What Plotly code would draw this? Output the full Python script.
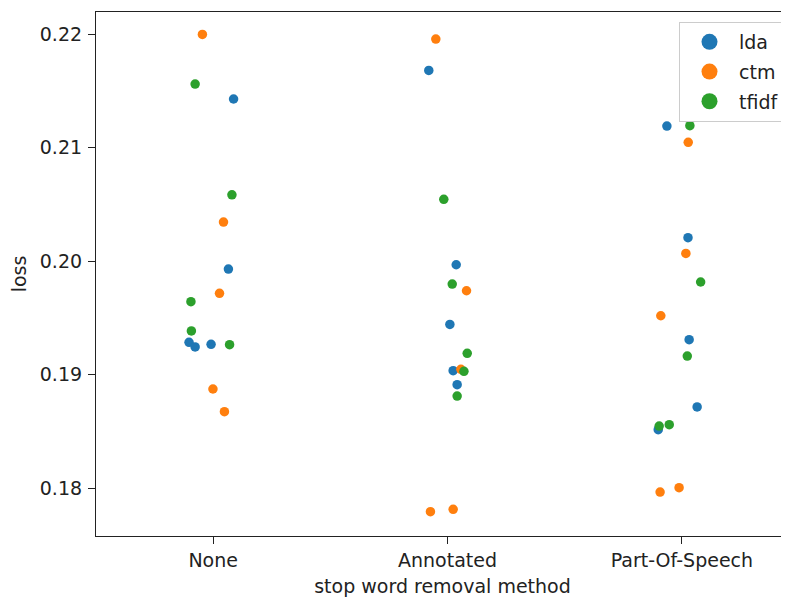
import plotly.graph_objects as go

# ---- data ----
methods = ["None", "Annotated", "Part-Of-Speech"]
series = ["lda", "ctm", "tfidf"]
colors = ["#1f77b4", "#ff7f0e", "#2ca02c"]

point_method = [0] * 5 + [1] * 5 + [2] * 5

lda_loss = [0.21428, 0.19931, 0.19286, 0.19245, 0.19268,
            0.21680, 0.19969, 0.19444, 0.19036, 0.18913,
            0.21190, 0.20207, 0.19309, 0.18717, 0.18517]
lda_jitter = [0.087, 0.065, -0.103, -0.077, -0.009,
              -0.080, 0.037, 0.010, 0.024, 0.041,
              -0.064, 0.026, 0.031, 0.065, -0.101]

ctm_loss = [0.21997, 0.20345, 0.19717, 0.18875, 0.18675,
            0.21956, 0.19740, 0.19048, 0.17795, 0.17816,
            0.21047, 0.20069, 0.19520, 0.18006, 0.17968]
ctm_jitter = [-0.046, 0.044, 0.027, -0.001, 0.048,
              -0.050, 0.081, 0.057, -0.073, 0.024,
              0.027, 0.017, -0.090, -0.012, -0.093]

tfidf_loss = [0.21560, 0.20585, 0.19644, 0.19386, 0.19265,
              0.20545, 0.19799, 0.19189, 0.19031, 0.18813,
              0.21193, 0.19817, 0.19165, 0.18561, 0.18549]
tfidf_jitter = [-0.077, 0.080, -0.095, -0.093, 0.070,
                -0.016, 0.020, 0.084, 0.070, 0.041,
                0.034, 0.080, 0.023, -0.054, -0.097]

y_ticks = [0.18, 0.19, 0.20, 0.21, 0.22]

FONT = "DejaVu Sans"
FS = 19

fig = go.Figure()
all_loss = [lda_loss, ctm_loss, tfidf_loss]
all_jit = [lda_jitter, ctm_jitter, tfidf_jitter]
for name, col, loss, jit in zip(series, colors, all_loss, all_jit):
    xs = [m + j for m, j in zip(point_method, jit)]
    fig.add_trace(go.Scatter(
        x=xs, y=loss, mode="markers", name=name, legendgroup=name,
        showlegend=False,
        marker=dict(color=col, size=9.5, line=dict(width=0)),
    ))
# legend entries (larger symbols, like seaborn's legend handles)
for name, col in zip(series, colors):
    fig.add_trace(go.Scatter(
        x=[None], y=[None], mode="markers", name=name, legendgroup=name,
        marker=dict(color=col, size=16, line=dict(width=0)),
    ))

title_font = dict(family=FONT, size=FS, color="#222")

# the page body adds an 8px offset, so the figure is sized to fit the window
fig.update_layout(
    width=781, height=589,
    margin=dict(l=88, r=0, t=4, b=61),
    paper_bgcolor="white", plot_bgcolor="white",
    font=dict(family=FONT, size=FS, color="#222"),
    legend=dict(
        x=(679 - 96) / 693, xanchor="left",
        y=1 - (22 - 12) / 524, yanchor="top",
        bgcolor="rgba(255,255,255,0.8)", bordercolor="#cccccc", borderwidth=1,
        font=dict(family=FONT, size=FS, color="#222"),
        itemwidth=49, tracegroupgap=2,
    ),
    xaxis=dict(
        range=[-0.5, 2.457], tickmode="array", tickvals=[0, 1, 2], ticktext=methods,
        showgrid=False, zeroline=False, automargin=False,
        showline=True, linecolor="#222", linewidth=1.2, mirror=True,
        ticks="outside", ticklen=7, tickwidth=1.1, tickcolor="#222",
        title=dict(text="stop word removal method", font=title_font),
    ),
    yaxis=dict(
        range=[0.17581, 0.22194], tickmode="array", tickvals=y_ticks,
        tickformat=".2f", automargin=False,
        showgrid=False, zeroline=False,
        showline=True, linecolor="#222", linewidth=1.2,
        ticks="outside", ticklen=7, tickwidth=1.1, tickcolor="#222",
        ticklabelstandoff=2,
        title=dict(text="loss", font=title_font),
    ),
)

fig.write_html("out.html")
